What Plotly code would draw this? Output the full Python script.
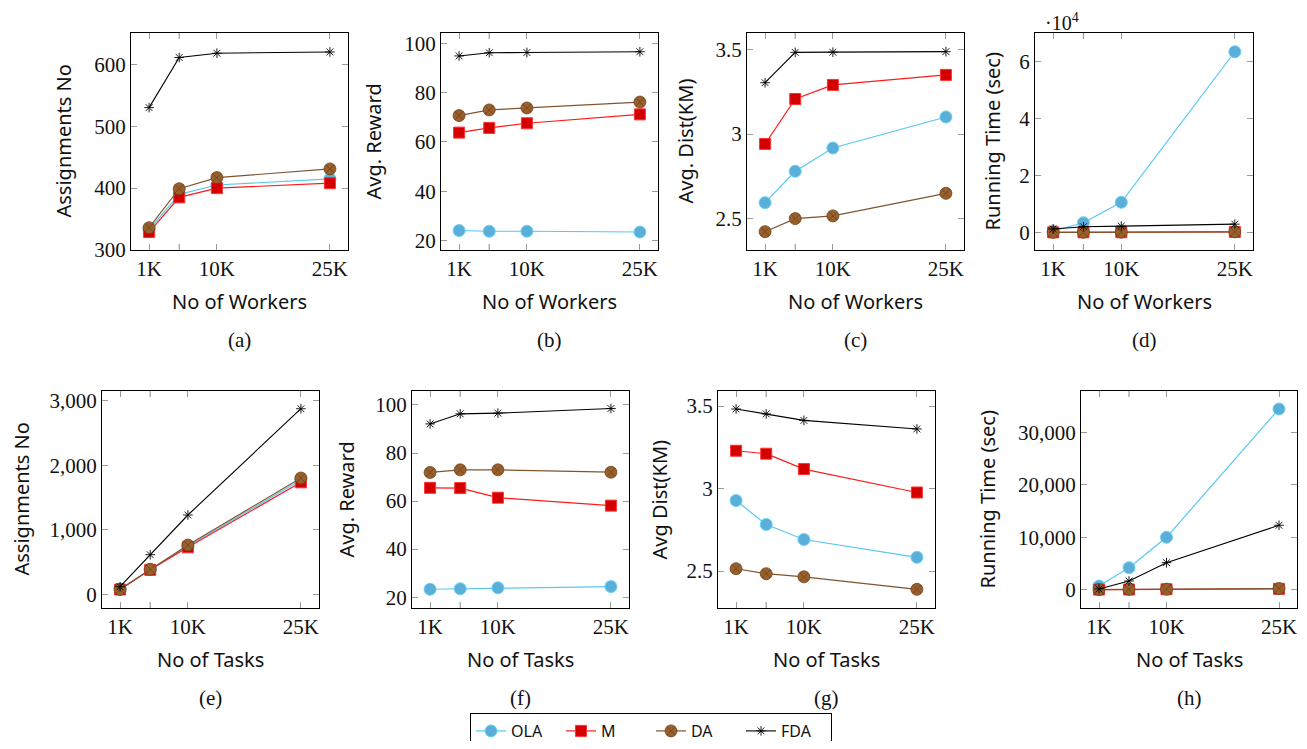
import plotly.graph_objects as go

W, H = 1307, 749
OFF = 8  # page body margin
FW, FH = W - 2 * OFF, H - 2 * OFF

x_vals = [1000, 5000, 10000, 25000]
x_label_vals = [1000, 10000, 25000]
x_label_text = ["1K", "10K", "25K"]
x_minor_vals = [5000]

series_names = ["OLA", "M", "DA", "FDA"]

# (a) Assignments vs workers
a_OLA = [333, 390, 405, 415]
a_M = [329, 385, 400, 408]
a_DA = [336, 399, 417, 431]
a_FDA = [530, 611, 618, 620]
# (b) Avg reward vs workers
b_OLA = [24.1, 23.8, 23.8, 23.5]
b_M = [63.8, 65.7, 67.6, 71.2]
b_DA = [70.7, 73.0, 73.8, 76.2]
b_FDA = [94.9, 96.2, 96.3, 96.6]
# (c) Avg dist vs workers
c_OLA = [2.596, 2.781, 2.918, 3.101]
c_M = [2.942, 3.207, 3.290, 3.349]
c_DA = [2.425, 2.502, 2.518, 2.651]
c_FDA = [3.303, 3.482, 3.483, 3.486]
# (d) Running time vs workers (sec)
d_OLA = [500, 3400, 10600, 63600]
d_M = [10, 30, 60, 150]
d_DA = [15, 40, 80, 200]
d_FDA = [1200, 2000, 2200, 2900]
# (e) Assignments vs tasks
e_OLA = [80, 385, 745, 1775]
e_M = [75, 380, 730, 1738]
e_DA = [78, 388, 765, 1805]
e_FDA = [118, 615, 1231, 2880]
# (f) Avg reward vs tasks
f_OLA = [23.3, 23.5, 23.9, 24.4]
f_M = [65.5, 65.4, 61.4, 58.1]
f_DA = [71.9, 73.0, 73.0, 72.0]
f_FDA = [92.1, 96.3, 96.6, 98.5]
# (g) Avg dist vs tasks
g_OLA = [2.927, 2.782, 2.691, 2.583]
g_M = [3.229, 3.211, 3.118, 2.976]
g_DA = [2.514, 2.484, 2.465, 2.389]
g_FDA = [3.482, 3.452, 3.413, 3.361]
# (h) Running time vs tasks (sec)
h_OLA = [700, 4200, 9990, 34460]
h_M = [20, 40, 80, 160]
h_DA = [30, 60, 100, 220]
h_FDA = [150, 1660, 5150, 12280]

panels = [
    dict(data=[a_OLA, a_M, a_DA, a_FDA], px=(131, 348), py=(33, 250), yr=[300, 650.6],
         yt=[300, 400, 500, 600], ytt=["300", "400", "500", "600"],
         ytitle="Assignments No", ytx=63, xtitle="No of Workers", cap="(a)"),
    dict(data=[b_OLA, b_M, b_DA, b_FDA], px=(441, 658), py=(33, 250), yr=[16.2, 104.2],
         yt=[20, 40, 60, 80, 100], ytt=["20", "40", "60", "80", "100"],
         ytitle="Avg. Reward", ytx=373, xtitle="No of Workers", cap="(b)"),
    dict(data=[c_OLA, c_M, c_DA, c_FDA], px=(747, 964), py=(33, 250), yr=[2.317, 3.596],
         yt=[2.5, 3, 3.5], ytt=["2.5", "3", "3.5"],
         ytitle="Avg. Dist(KM)", ytx=685, xtitle="No of Workers", cap="(c)"),
    dict(data=[d_OLA, d_M, d_DA, d_FDA], px=(1035, 1253), py=(33, 250), yr=[-6200, 70200],
         yt=[0, 20000, 40000, 60000], ytt=["0", "2", "4", "6"],
         ytitle="Running Time (sec)", ytx=992, xtitle="No of Workers", cap="(d)"),
    dict(data=[e_OLA, e_M, e_DA, e_FDA], px=(102, 319), py=(391, 608), yr=[-212, 3155],
         yt=[0, 1000, 2000, 3000], ytt=["0", "1,000", "2,000", "3,000"],
         ytitle="Assignments No", ytx=21, xtitle="No of Tasks", cap="(e)"),
    dict(data=[f_OLA, f_M, f_DA, f_FDA], px=(412, 629), py=(391, 608), yr=[15.5, 105.8],
         yt=[20, 40, 60, 80, 100], ytt=["20", "40", "60", "80", "100"],
         ytitle="Avg. Reward", ytx=346, xtitle="No of Tasks", cap="(f)"),
    dict(data=[g_OLA, g_M, g_DA, g_FDA], px=(718, 935), py=(391, 608), yr=[2.276, 3.591],
         yt=[2.5, 3, 3.5], ytt=["2.5", "3", "3.5"],
         ytitle="Avg Dist(KM)", ytx=659, xtitle="No of Tasks", cap="(g)"),
    dict(data=[h_OLA, h_M, h_DA, h_FDA], px=(1081, 1297), py=(391, 608), yr=[-3490, 37880],
         yt=[0, 10000, 20000, 30000], ytt=["0", "10,000", "20,000", "30,000"],
         ytitle="Running Time (sec)", ytx=987, xtitle="No of Tasks", cap="(h)"),
]

styles = {
    "OLA": dict(line=dict(color="#55C8F2", width=1.2),
                marker=dict(symbol="circle", size=12, color="#5AAFD8",
                            line=dict(color="#6CD0F5", width=1))),
    "M": dict(line=dict(color="#FF1A1A", width=1.2),
              marker=dict(symbol="square", size=11, color="#D40000",
                          line=dict(color="#FF3333", width=1))),
    "DA": dict(line=dict(color="#7F5530", width=1.2),
               marker=dict(symbol="circle-x", size=12, color="#99602C",
                           line=dict(color="#6B4220", width=0.8))),
    "FDA": dict(line=dict(color="#000000", width=1.1),
                marker=dict(symbol="asterisk-open", size=8, color="#000000",
                            line=dict(color="#000000", width=0.9))),
}

SERIF = "Liberation Serif"
SANS = "Noto Sans"
TICKC = "#9a9a9a"

fig = go.Figure()
annotations = []
shapes = []
layout = {}


def fx(p):
    return (p - OFF) / FW


def fy(p):
    return 1 - (p - OFF) / FH


for i, p in enumerate(panels):
    k = "" if i == 0 else str(i + 1)
    xa, ya = "x" + k, "y" + k
    for name, ys in zip(series_names, p["data"]):
        fig.add_trace(go.Scatter(
            x=x_vals, y=ys, mode="lines+markers", name=name,
            xaxis=xa, yaxis=ya, showlegend=(i == 0),
            line=styles[name]["line"], marker=styles[name]["marker"]))
    common = dict(showgrid=False, zeroline=False, showline=True, linecolor="black",
                  linewidth=1, mirror="ticks", ticks="inside", ticklen=6,
                  tickcolor=TICKC, tickwidth=1.2,
                  tickfont=dict(family=SERIF, size=21, color="#111"))
    layout["xaxis" + k] = dict(common, domain=[fx(p["px"][0]), fx(p["px"][1])],
                               anchor=ya, range=[-1400, 27400], tickmode="array",
                               tickvals=x_label_vals, ticktext=x_label_text)
    layout["yaxis" + k] = dict(common, domain=[fy(p["py"][1]), fy(p["py"][0])],
                               anchor=xa, range=p["yr"], tickmode="array",
                               tickvals=p["yt"], ticktext=p["ytt"])
    plot_h = p["py"][1] - p["py"][0]
    for xv in x_minor_vals:
        for y0, y1 in [(0, 6 / plot_h), (1 - 6 / plot_h, 1)]:
            shapes.append(dict(type="line", xref=xa, yref=ya + " domain",
                               x0=xv, x1=xv, y0=y0, y1=y1,
                               line=dict(color=TICKC, width=1.2)))
    cx = (p["px"][0] + p["px"][1]) / 2
    cy = (p["py"][0] + p["py"][1]) / 2
    annotations.append(dict(text=p["ytitle"], x=fx(p["ytx"]), y=fy(cy), xref="paper",
                            yref="paper", showarrow=False, textangle=-90,
                            xanchor="center", yanchor="middle",
                            font=dict(family=SANS, size=20, color="#111")))
    annotations.append(dict(text=p["xtitle"], x=fx(cx), y=fy(p["py"][1] + 51),
                            xref="paper", yref="paper", showarrow=False,
                            xanchor="center", yanchor="middle",
                            font=dict(family=SANS, size=20, color="#111")))
    annotations.append(dict(text=p["cap"], x=fx(cx), y=fy(p["py"][1] + 90),
                            xref="paper", yref="paper", showarrow=False,
                            xanchor="center", yanchor="middle",
                            font=dict(family=SERIF, size=21, color="#111")))

annotations.append(dict(text="·10<sup>4</sup>", x=fx(1043), y=1.0, xref="paper",
                        yref="paper", showarrow=False, xanchor="left", yanchor="top",
                        font=dict(family=SERIF, size=20, color="#111")))

fig.update_layout(**layout)
fig.update_layout(
    width=FW, height=FH,
    margin=dict(l=0, r=0, t=0, b=0, autoexpand=False),
    paper_bgcolor="white", plot_bgcolor="white",
    annotations=annotations, shapes=shapes,
    legend=dict(orientation="h", x=fx(651), y=fy(731), xanchor="center", yanchor="middle",
                bordercolor="black", borderwidth=1, bgcolor="white",
                font=dict(family=SANS, size=16, color="#111"),
                entrywidth=45, tracegroupgap=0),
)

fig.write_html("out.html")
